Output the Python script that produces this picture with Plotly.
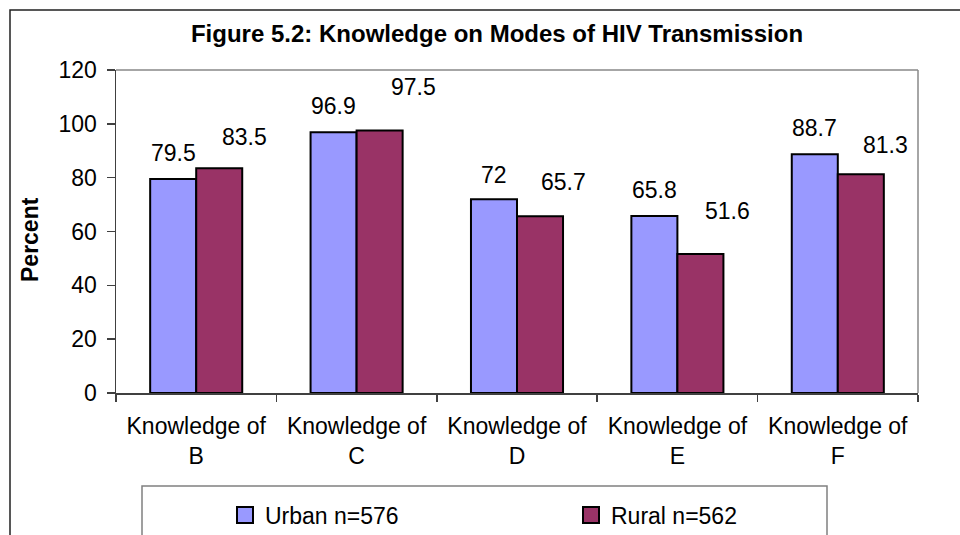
import plotly.graph_objects as go

categories = ["Knowledge of<br>B", "Knowledge of<br>C", "Knowledge of<br>D",
              "Knowledge of<br>E", "Knowledge of<br>F"]
urban = [79.5, 96.9, 72, 65.8, 88.7]
rural = [83.5, 97.5, 65.7, 51.6, 81.3]
urban_name = "Urban n=576"
rural_name = "Rural n=562"
y_ticks = [0, 20, 40, 60, 80, 100, 120]

# label placement styling (pixels)
urban_dx = [0, 0, 0, 0, 0]
urban_dy = [26, 26, 24, 26, 26]
rural_dx = [25, 34, 23, 27, 25]
rural_dy = [31, 44, 34, 43, 29]

W, H = 960, 535
L, R, T, B = 116, 918, 70, 393
FONT = "Liberation Sans, Arial, sans-serif"
URBAN_C = "#9999FF"
RURAL_C = "#993366"


def px(x):
    return (x - L) / (R - L)


def py(y):
    return (B - y) / (B - T)


fig = go.Figure()
fig.add_trace(go.Bar(x=categories, y=urban, name=urban_name, marker_color=URBAN_C,
                     marker_line=dict(color="black", width=2), showlegend=False))
fig.add_trace(go.Bar(x=categories, y=rural, name=rural_name, marker_color=RURAL_C,
                     marker_line=dict(color="black", width=2), showlegend=False))
# legend entries
for nm, c in [(urban_name, URBAN_C), (rural_name, RURAL_C)]:
    fig.add_trace(go.Scatter(x=[None], y=[None], mode="markers", name=nm,
                             marker=dict(symbol="square", size=16, color=c,
                                         line=dict(color="black", width=2))))

bar_half = 23
ann = []
for i, c in enumerate(categories):
    ann.append(dict(x=c, y=urban[i], xref="x", yref="y", text=f"{urban[i]:g}",
                    showarrow=False, xshift=-bar_half + urban_dx[i], yshift=urban_dy[i],
                    yanchor="middle", font=dict(size=23, color="black", family=FONT)))
    ann.append(dict(x=c, y=rural[i], xref="x", yref="y", text=f"{rural[i]:g}",
                    showarrow=False, xshift=bar_half + rural_dx[i], yshift=rural_dy[i],
                    yanchor="middle", font=dict(size=23, color="black", family=FONT)))
ann.append(dict(x=px(30), y=py(240), xref="paper", yref="paper", text="<b>Percent</b>",
                textangle=-90, showarrow=False, xanchor="center", yanchor="middle",
                font=dict(size=23, color="black", family=FONT)))

shapes = [
    # outer chart border
    dict(type="rect", xref="paper", yref="paper", x0=px(10), y0=py(10), x1=px(970), y1=py(560),
         line=dict(color="#202020", width=1.5), layer="below"),
    # plot area top & right
    dict(type="line", xref="paper", yref="paper", x0=0, y0=1, x1=1, y1=1,
         line=dict(color="#888888", width=1.5)),
    dict(type="line", xref="paper", yref="paper", x0=1, y0=0, x1=1, y1=1,
         line=dict(color="#888888", width=1.5)),
    # legend box
    dict(type="rect", xref="paper", yref="paper", x0=px(142), y0=py(486), x1=px(827), y1=py(560),
         line=dict(color="#808080", width=1.5)),
]

fig.update_layout(
    width=W, height=H,
    margin=dict(l=L, r=W - R, t=T, b=H - B, autoexpand=False),
    paper_bgcolor="white", plot_bgcolor="white",
    font=dict(family=FONT, size=23, color="black"),
    title=dict(text="<b>Figure 5.2: Knowledge on Modes of HIV Transmission</b>",
               x=px(497), xref="paper", xanchor="center",
               y=1 - 34 / H, yref="container", yanchor="middle",
               font=dict(size=24, color="black", family=FONT)),
    barmode="group", bargap=0.426, bargroupgap=0,
    xaxis=dict(showline=True, linecolor="#404040", linewidth=1.5, ticks="outside",
               tickson="boundaries", ticklen=7, tickcolor="#404040", tickwidth=1.5,
               showgrid=False, ticklabelstandoff=12, tickfont=dict(size=23)),
    yaxis=dict(range=[0, 120], tickvals=y_ticks, showline=True, linecolor="#404040",
               linewidth=1.5, ticks="outside", ticklen=8, tickcolor="#404040", tickwidth=1.5,
               showgrid=False, zeroline=False, ticklabelstandoff=5, tickfont=dict(size=23)),
    legend=dict(orientation="h", x=px(225), xanchor="left", y=py(515), yanchor="middle",
                entrywidth=301, entrywidthmode="pixels", bgcolor="rgba(0,0,0,0)",
                borderwidth=0, font=dict(size=23, color="black", family=FONT),
                itemclick=False, itemdoubleclick=False),
    annotations=ann, shapes=shapes,
)

fig.write_html("out.html", config={"displayModeBar": False, "staticPlot": True})

# remove default page margin so the figure sits at the window origin
with open("out.html", encoding="utf-8") as f:
    html = f.read()
html = html.replace("<head>", "<head><style>html,body{margin:0;padding:0;overflow:hidden}</style>", 1)
with open("out.html", "w", encoding="utf-8") as f:
    f.write(html)
